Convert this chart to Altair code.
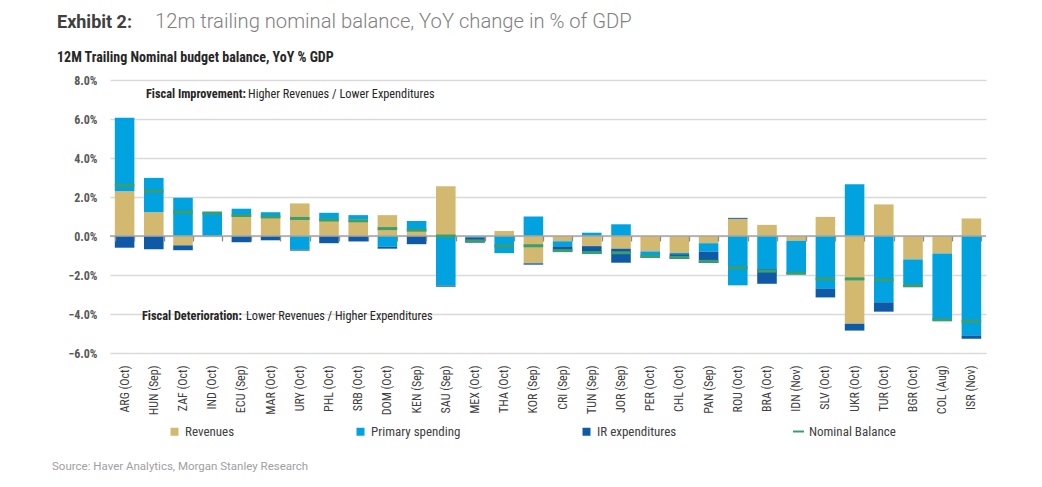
import altair as alt
import pandas as pd

# Country (latest month) ordered by change in nominal balance
countries = [
    "ARG (Oct)", "HUN (Sep)", "ZAF (Oct)", "IND (Oct)", "ECU (Sep)", "MAR (Oct)",
    "URY (Oct)", "PHL (Oct)", "SRB (Oct)", "DOM (Oct)", "KEN (Sep)", "SAU (Sep)",
    "MEX (Oct)", "THA (Oct)", "KOR (Sep)", "CRI (Sep)", "TUN (Sep)", "JOR (Sep)",
    "PER (Oct)", "CHL (Oct)", "PAN (Sep)", "ROU (Oct)", "BRA (Oct)", "IDN (Nov)",
    "SLV (Oct)", "UKR (Oct)", "TUR (Oct)", "BGR (Oct)", "COL (Aug)", "ISR (Nov)",
]

# Contributions to the YoY change, % of GDP
revenues = [2.30, 1.22, -0.48, -0.05, 1.00, 0.92, 1.67, 0.82, 0.85, 1.07, 0.25, 2.55,
            -0.02, 0.26, -1.40, -0.27, -0.52, -0.65, -0.79, -0.87, -0.37, 0.88, 0.57, -0.24,
            0.98, -4.50, 1.62, -1.20, -0.90, 0.90]
primary_spending = [3.77, 1.76, 1.96, 1.22, 0.40, 0.30, -0.70, 0.37, 0.22, -0.55, 0.52, -2.55,
                    -0.05, -0.88, 1.00, -0.26, 0.17, 0.60, -0.33, -0.06, -0.43, -2.53, -1.70, -1.74,
                    -2.70, 2.65, -3.40, -1.40, -3.43, -5.10]
ir_expenditures = [-0.60, -0.68, -0.25, 0.00, -0.32, -0.22, -0.05, -0.37, -0.28, -0.10, -0.42, -0.05,
                   -0.27, 0.00, -0.07, -0.27, -0.40, -0.72, 0.00, -0.25, -0.58, 0.05, -0.75, 0.00,
                   -0.45, -0.35, -0.48, -0.02, 0.00, -0.17]
nominal_balance = [2.60, 2.30, 1.22, 1.18, 1.05, 0.98, 0.90, 0.82, 0.78, 0.38, 0.30, 0.00,
                   -0.25, -0.51, -0.50, -0.75, -0.85, -0.86, -1.05, -1.10, -1.30, -1.63, -1.80, -1.90,
                   -2.20, -2.20, -2.25, -2.55, -4.30, -4.37]

components = ["Revenues", "Primary spending", "IR expenditures"]
component_colors = ["#D3B96F", "#00A3E0", "#0E5AA7"]
balance_color = "#3B9E6E"

y_ticks = [-6, -4, -2, 0, 2, 4, 6, 8]

COND = "Roboto Condensed, Liberation Sans Narrow, DejaVu Sans Condensed, Arial Narrow, Roboto, sans-serif"
SANS = "Roboto, Liberation Sans, sans-serif"

rows = []
for i, c in enumerate(countries):
    for k, (name, vals) in enumerate(zip(components, [revenues, primary_spending, ir_expenditures])):
        rows.append({"country": c, "component": name, "order": k, "value": vals[i]})
bars_df = pd.DataFrame(rows)
bal_df = pd.DataFrame({"country": countries, "balance": nominal_balance,
                       "series": ["Nominal Balance"] * len(countries)})

W, H = 876, 273
x_scale = alt.Scale(domain=countries, paddingInner=0.33, paddingOuter=0.165)
y_scale = alt.Scale(domain=[-6, 8], nice=False, zero=False)

y_axis = alt.Axis(values=y_ticks, labelExpr="format(datum.value, '.1f') + '%'",
                  grid=True, gridColor="#D9D9D9", gridWidth=1.5,
                  domain=False, ticks=False, labelPadding=13,
                  labelFont=COND, labelFontSize=12, labelFontWeight="bold",
                  labelColor="#595959", title=None)


def y_enc(field):
    return alt.Y(field, scale=y_scale, axis=y_axis, title=None)


bars = alt.Chart(bars_df).mark_bar().encode(
    x=alt.X("country:N", scale=x_scale, sort=countries, title=None,
            axis=alt.Axis(labelAngle=-90, labelPadding=12, ticks=False, domain=False,
                          grid=False, labelFont=COND, labelFontSize=12,
                          labelColor="#404040")),
    y=alt.Y("value:Q", scale=y_scale, stack="zero", axis=y_axis, title=None),
    color=alt.Color("component:N", scale=alt.Scale(domain=components, range=component_colors),
                    legend=alt.Legend(title=None, orient="none", legendX=58, legendY=345,
                                      direction="horizontal", symbolType="square",
                                      symbolSize=64, columnPadding=119,
                                      labelFont=COND, labelFontSize=13,
                                      labelColor="#404040")),
    order=alt.Order("order:Q"),
)

zero_line = alt.Chart(pd.DataFrame({"y": [0]})).mark_rule(
    color="#A6A6A6", strokeWidth=1.5
).encode(y=y_enc("y:Q"))

# small separators hanging below the zero line between countries
zero_ticks = alt.Chart(bal_df).mark_point(opacity=0).encode(
    x=alt.X("country:N", scale=x_scale, sort=countries, title=None,
            axis=alt.Axis(orient="bottom", offset=-117, labels=False, domain=False,
                          grid=False, ticks=True, tickBand="extent", tickSize=5,
                          tickColor="#8C8C8C", tickWidth=1.3, zindex=1)),
    y=y_enc("balance:Q"),
)

balance = alt.Chart(bal_df).mark_rule(strokeWidth=3).encode(
    x=alt.X("country:N", scale=x_scale, sort=countries, bandPosition=0, axis=None),
    x2=alt.X2("country", bandPosition=1),
    y=y_enc("balance:Q"),
    stroke=alt.Stroke("series:N", scale=alt.Scale(domain=["Nominal Balance"], range=[balance_color]),
                      legend=alt.Legend(title=None, orient="none", legendX=682, legendY=345,
                                        symbolType="stroke", symbolSize=120,
                                        symbolStrokeWidth=2,
                                        labelFont=COND, labelFontSize=13,
                                        labelColor="#404040")),
)

notes_df = pd.DataFrame({
    "y": [7.3, 7.3, -4.08, -4.08],
    "text": ["Fiscal Improvement:", "Higher Revenues / Lower Expenditures",
             "Fiscal Deterioration:", "Lower Revenues / Higher Expenditures"],
    "x": [36, 138, 32, 136],
    "weight": ["bold", "normal", "bold", "normal"],
})


def note(i):
    r = notes_df.iloc[[i]]
    return alt.Chart(r).mark_text(
        align="left", baseline="middle", font=COND, fontSize=12.3,
        fontWeight=r["weight"].iloc[0], color="#262626"
    ).encode(x=alt.value(int(r["x"].iloc[0])), y=y_enc("y:Q"), text="text:N")


def label(text, x, y, **kw):
    return alt.Chart(pd.DataFrame({"t": [text]})).mark_text(
        align="left", baseline="alphabetic", **kw
    ).encode(x=alt.value(x), y=alt.value(y), text="t:N")


exhibit = label("Exhibit 2:", -53, -52, font=SANS, fontSize=18, fontWeight="bold", color="#404040")
headline = label("12m trailing nominal balance, YoY change in % of GDP", 45, -52,
                 font=SANS, fontSize=20.2, fontWeight=300, color="#7F7F7F")
subtitle = label("12M Trailing Nominal budget balance, YoY % GDP", -53, -18,
                 font=COND, fontSize=14, fontWeight="bold", color="#262626")
source = label("Source: Haver Analytics, Morgan Stanley Research", -58, 390,
               font=SANS, fontSize=11.5, color="#A0A0A0")

chart = alt.layer(
    bars, zero_line, balance, zero_ticks,
    note(0), note(1), note(2), note(3),
    exhibit, headline, subtitle, source,
).resolve_axis(x="independent").properties(
    width=W, height=H,
    autosize=alt.AutoSizeParams(type="none"),
    padding={"left": 110, "top": 80, "right": 56, "bottom": 134},
).configure_view(stroke=None).configure_axis(labelFlush=False)

chart.save("out.html", embed_options={"renderer": "svg", "actions": False})
